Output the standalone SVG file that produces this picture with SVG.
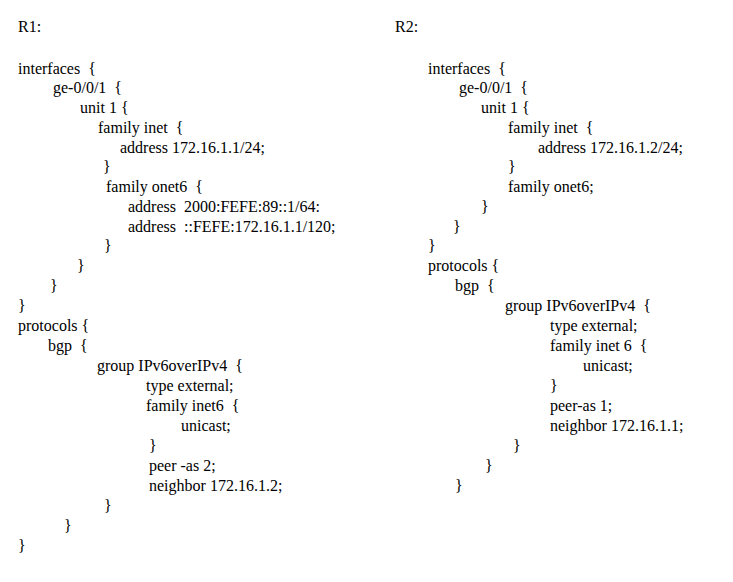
<svg xmlns="http://www.w3.org/2000/svg" width="733" height="582" viewBox="0 0 733 582" font-family="'Liberation Serif', 'Times New Roman', serif" font-size="16">
<style>text{font-family:'Liberation Serif','Times New Roman',serif;font-size:16px;fill:#000;white-space:pre}</style>
<rect width="733" height="582" fill="#fff"/>
<g id="r1">
<text x="18" y="32">R1:</text>
<text x="18" y="74">interfaces  {</text>
<text x="53" y="93">ge-0/0/1  {</text>
<text x="80" y="113">unit 1 {</text>
<text x="98" y="133">family inet  {</text>
<text x="120" y="153">address 172.16.1.1/24;</text>
<text x="103" y="172">}</text>
<text x="106" y="192">family onet6  {</text>
<text x="128" y="212">address  2000:FEFE:89::1/64:</text>
<text x="128" y="232">address  ::FEFE:172.16.1.1/120;</text>
<text x="104" y="251">}</text>
<text x="77" y="271">}</text>
<text x="50" y="291">}</text>
<text x="18" y="311">}</text>
<text x="18" y="331">protocols {</text>
<text x="48" y="351">bgp  {</text>
<text x="97" y="371">group IPv6overIPv4  {</text>
<text x="146" y="391">type external;</text>
<text x="146" y="411">family inet6  {</text>
<text x="181" y="431">unicast;</text>
<text x="149" y="451">}</text>
<text x="149" y="471">peer -as 2;</text>
<text x="149" y="491">neighbor 172.16.1.2;</text>
<text x="104" y="511">}</text>
<text x="64" y="531">}</text>
<text x="18" y="551">}</text>
</g>
<g id="r2">
<text x="395" y="32">R2:</text>
<text x="428" y="74">interfaces  {</text>
<text x="459" y="93">ge-0/0/1  {</text>
<text x="481" y="113">unit 1 {</text>
<text x="508" y="133">family inet  {</text>
<text x="538" y="153">address 172.16.1.2/24;</text>
<text x="508" y="172">}</text>
<text x="508" y="192">family onet6;</text>
<text x="481" y="212">}</text>
<text x="453" y="232">}</text>
<text x="428" y="251">}</text>
<text x="428" y="271">protocols {</text>
<text x="455" y="291">bgp  {</text>
<text x="505" y="311">group IPv6overIPv4  {</text>
<text x="550" y="331">type external;</text>
<text x="550" y="351">family inet 6  {</text>
<text x="583" y="371">unicast;</text>
<text x="550" y="391">}</text>
<text x="550" y="411">peer-as 1;</text>
<text x="550" y="431">neighbor 172.16.1.1;</text>
<text x="513" y="451">}</text>
<text x="485" y="471">}</text>
<text x="455" y="491">}</text>
</g>
</svg>
